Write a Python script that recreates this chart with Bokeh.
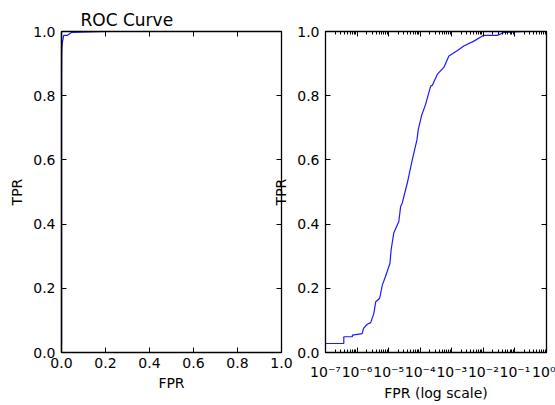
from bokeh.plotting import figure
from bokeh.layouts import row
from bokeh.models import (Range1d, FixedTicker, PrintfTickFormatter, LinearAxis,
                          LogAxis, CustomJSTickFormatter)
from bokeh.embed import file_html
from bokeh.resources import INLINE

# ROC data
fpr = [1e-7, 3.8e-7, 3.8e-7, 7.1e-7, 7.1e-7, 1.45e-6, 1.6e-6, 2.1e-6, 2.7e-6,
       3.4e-6, 3.9e-6, 5.2e-6, 6.3e-6, 7.9e-6, 1.1e-5, 1.2e-5, 1.45e-5, 2.1e-5,
       2.4e-5, 2.7e-5, 3.9e-5, 5.6e-5, 7.9e-5, 8.7e-5, 1.12e-4, 1.48e-4, 2.14e-4,
       2.4e-4, 3.5e-4, 5.6e-4, 8.1e-4, 1.48e-3, 2.4e-3, 5.0e-3, 1.02e-2, 2.75e-2,
       4.5e-2, 2.0e-1]
tpr = [0.028, 0.028, 0.049, 0.049, 0.054, 0.059, 0.075, 0.088, 0.093,
       0.122, 0.158, 0.169, 0.21, 0.236, 0.278, 0.32, 0.372, 0.408,
       0.455, 0.466, 0.528, 0.60, 0.663, 0.695, 0.74, 0.773, 0.83,
       0.832, 0.867, 0.888, 0.924, 0.94, 0.955, 0.97, 0.988, 0.988,
       0.997, 1.0]

lin_ticks = [0.0, 0.2, 0.4, 0.6, 0.8, 1.0]
log_major = [1e-7, 1e-6, 1e-5, 1e-4, 1e-3, 1e-2, 1e-1, 1e0]
log_minor = [m * d for d in log_major[:-1] for m in range(2, 10)]

title_text = "ROC Curve"
xlabel_lin = "FPR"
xlabel_log = "FPR (log scale)"
ylabel = "TPR"

FONT = "DejaVu Sans"
LINE_COLOR = "#1a1aff"

def style_axis(ax, show_labels=True, minor=False):
    ax.axis_line_color = "black"
    ax.axis_line_width = 1.3
    ax.major_tick_in = 5
    ax.major_tick_out = 0
    ax.major_tick_line_color = "black"
    ax.major_tick_line_width = 1
    if minor:
        ax.minor_tick_in = 3
        ax.minor_tick_out = 0
        ax.minor_tick_line_color = "black"
    else:
        ax.minor_tick_line_color = None
    ax.major_label_text_font = FONT
    ax.major_label_text_font_size = "14px"
    ax.axis_label_text_font = FONT
    ax.axis_label_text_font_size = "14px"
    ax.axis_label_text_font_style = "normal"
    ax.axis_label_text_color = "black"
    if show_labels:
        ax.major_label_text_color = "black"
    else:
        ax.major_label_text_color = None
        ax.major_label_standoff = 0

log_fmt_code = """
const sup = {"-":"\\u207b","0":"\\u2070","1":"\\u00b9","2":"\\u00b2","3":"\\u00b3",
             "4":"\\u2074","5":"\\u2075","6":"\\u2076","7":"\\u2077","8":"\\u2078","9":"\\u2079"};
const e = Math.round(Math.log10(tick));
return "10" + String(e).split("").map(c => sup[c]).join("");
"""

# ---------------- left (linear) ----------------
p1 = figure(frame_width=220, frame_height=321,
            x_range=Range1d(0, 1), y_range=Range1d(0, 1),
            output_backend="svg", toolbar_location=None,
            min_border_left=61, min_border_right=19, min_border_top=31,
            min_border_bottom=53)
p1.grid.visible = False
p1.outline_line_color = "black"
p1.title.text = title_text
p1.title.align = "left"
p1.title.offset = 19
p1.title.text_font = FONT
p1.title.text_font_size = "17px"
p1.title.text_font_style = "normal"
p1.title.text_color = "black"
p1.title.standoff = 4

p1.line(fpr, tpr, line_color=LINE_COLOR, line_width=1.2)

for ax in p1.xaxis:
    ax.ticker = FixedTicker(ticks=lin_ticks)
    ax.formatter = PrintfTickFormatter(format="%.1f")
    ax.axis_label = xlabel_lin
    style_axis(ax)
    ax.major_label_standoff = 5
    ax.axis_label_standoff = 4
for ax in p1.yaxis:
    ax.ticker = FixedTicker(ticks=lin_ticks)
    ax.formatter = PrintfTickFormatter(format="%.1f")
    ax.axis_label = ylabel
    style_axis(ax)
    ax.axis_line_width = 1.6
    ax.major_label_standoff = 6
    ax.axis_label_standoff = 5

top1 = LinearAxis(ticker=FixedTicker(ticks=lin_ticks),
                  formatter=PrintfTickFormatter(format="%.1f"))
style_axis(top1, show_labels=False)
p1.add_layout(top1, "above")
right1 = LinearAxis(ticker=FixedTicker(ticks=lin_ticks),
                    formatter=PrintfTickFormatter(format="%.1f"))
style_axis(right1, show_labels=False)
p1.add_layout(right1, "right")

# ---------------- right (log) ----------------
p2 = figure(frame_width=221, frame_height=321, x_axis_type="log",
            x_range=Range1d(1e-7, 1), y_range=Range1d(0, 1),
            output_backend="svg", toolbar_location=None,
            min_border_left=56, min_border_right=9, min_border_top=31,
            min_border_bottom=53, margin=(0, 0, 0, -31))
p2.grid.visible = False
p2.outline_line_color = "black"
p2.border_fill_color = None

p2.line(fpr, tpr, line_color=LINE_COLOR, line_width=1.2)

for ax in p2.xaxis:
    ax.ticker = FixedTicker(ticks=log_major, minor_ticks=log_minor)
    ax.formatter = CustomJSTickFormatter(code=log_fmt_code)
    ax.axis_label = xlabel_log
    style_axis(ax, minor=True)
    ax.major_label_standoff = 11
    ax.axis_label_standoff = 2
for ax in p2.yaxis:
    ax.ticker = FixedTicker(ticks=lin_ticks)
    ax.formatter = PrintfTickFormatter(format="%.1f")
    ax.axis_label = ylabel
    style_axis(ax)
    ax.major_label_standoff = 6
    ax.axis_label_standoff = 5

top2 = LogAxis(ticker=FixedTicker(ticks=log_major, minor_ticks=log_minor),
               formatter=CustomJSTickFormatter(code=log_fmt_code))
style_axis(top2, show_labels=False, minor=True)
p2.add_layout(top2, "above")
right2 = LinearAxis(ticker=FixedTicker(ticks=lin_ticks),
                    formatter=PrintfTickFormatter(format="%.1f"))
style_axis(right2, show_labels=False)
p2.add_layout(right2, "right")

layout = row(p1, p2)
open("out.html", "w").write(file_html(layout, INLINE))
